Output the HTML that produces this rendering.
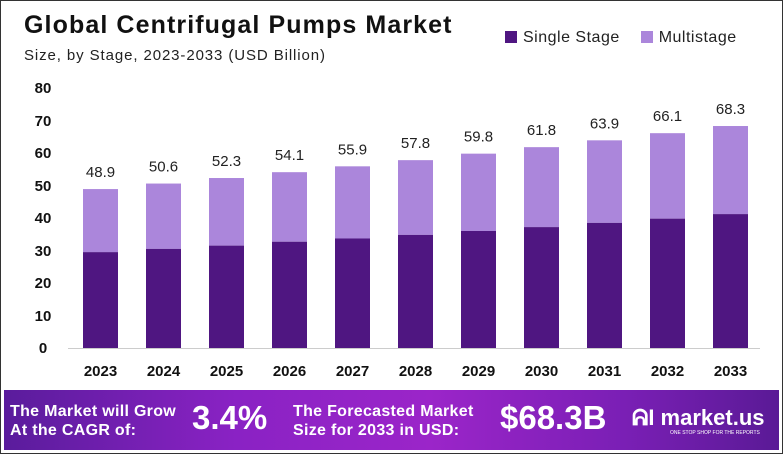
<!DOCTYPE html>
<html><head><meta charset="utf-8"><style>
body{margin:0;width:783px;height:454px;overflow:hidden;background:#fff;font-family:"Liberation Sans",sans-serif}
.wrap{position:absolute;left:0;top:0;width:781px;height:452px;border:1px solid #333;}
.t{position:absolute;white-space:nowrap}
</style></head><body>
<div class="wrap"></div>
<div class="t" style="left:24px;top:11px;font-size:25px;font-weight:bold;color:#111;letter-spacing:1.1px">Global Centrifugal Pumps Market</div>
<div class="t" style="left:24px;top:47px;font-size:15px;color:#222;letter-spacing:0.9px">Size, by Stage, 2023-2033 (USD Billion)</div>
<div class="t" style="left:505px;top:29px;font-size:16px;color:#222;letter-spacing:0.5px"><span style="display:inline-block;width:12px;height:12px;background:#4f1681;vertical-align:-1px;margin-right:6px"></span>Single Stage <span style="display:inline-block;width:12px;height:12px;background:#ab86db;vertical-align:-1px;margin:0 6px 0 16px"></span>Multistage</div>
<svg width="783" height="454" style="position:absolute;left:0;top:0" font-family="Liberation Sans">
<line x1="68" y1="348.5" x2="760" y2="348.5" stroke="#ccc"/>
<g font-size="15" font-weight="bold" fill="#111" text-anchor="middle">
<text x="43" y="353">0</text><text x="43" y="321">10</text><text x="43" y="288">20</text><text x="43" y="256">30</text><text x="43" y="223">40</text><text x="43" y="191">50</text><text x="43" y="158">60</text><text x="43" y="126">70</text><text x="43" y="93">80</text>
</g>
<g id="bars"></g>
</svg>
<div style="position:absolute;left:4px;top:390px;width:775px;height:60px;background:linear-gradient(90deg,#5a1c9c,#8a22c4 30%,#9b25c9 55%,#7a1fb5 80%,#5a1a96)"></div>
<div class="t" style="left:10px;top:402px;font-size:16px;font-weight:bold;color:#fff;line-height:19px;letter-spacing:0.3px">The Market will Grow<br>At the CAGR of:</div>
<div class="t" style="left:192px;top:399px;font-size:33px;font-weight:bold;color:#fff">3.4%</div>
<div class="t" style="left:293px;top:402px;font-size:16px;font-weight:bold;color:#fff;line-height:19px;letter-spacing:0.3px">The Forecasted Market<br>Size for 2033 in USD:</div>
<div class="t" style="left:500px;top:399px;font-size:33px;font-weight:bold;color:#fff">$68.3B</div>
<div class="t" style="left:632px;top:405px;font-size:22px;font-weight:bold;color:#fff">ᕱI market.us</div>
<div class="t" style="left:670px;top:430px;font-size:5px;color:#fff">ONE STOP SHOP FOR THE REPORTS</div>
<script>
var tot=[48.9,50.6,52.3,54.1,55.9,57.8,59.8,61.8,63.9,66.1,68.3],dk=[29.5,30.5,31.5,32.7,33.7,34.8,36,37.2,38.5,39.8,41.2],s='';
for(var i=0;i<11;i++){var x=83+63*i,yt=348-tot[i]*3.25,yd=348-dk[i]*3.25;
s+='<rect x="'+x+'" y="'+yt+'" width="35" height="'+(yd-yt)+'" fill="#ab86db"/><rect x="'+x+'" y="'+yd+'" width="35" height="'+(348-yd)+'" fill="#4f1681"/>';
s+='<text x="'+(x+17.5)+'" y="'+(yt-12)+'" font-size="15" fill="#222" text-anchor="middle">'+tot[i].toFixed(1)+'</text>';
s+='<text x="'+(x+17.5)+'" y="376" font-size="15" font-weight="bold" fill="#111" text-anchor="middle">'+(2023+i)+'</text>';}
document.getElementById('bars').innerHTML=s;
</script>
</body></html>
